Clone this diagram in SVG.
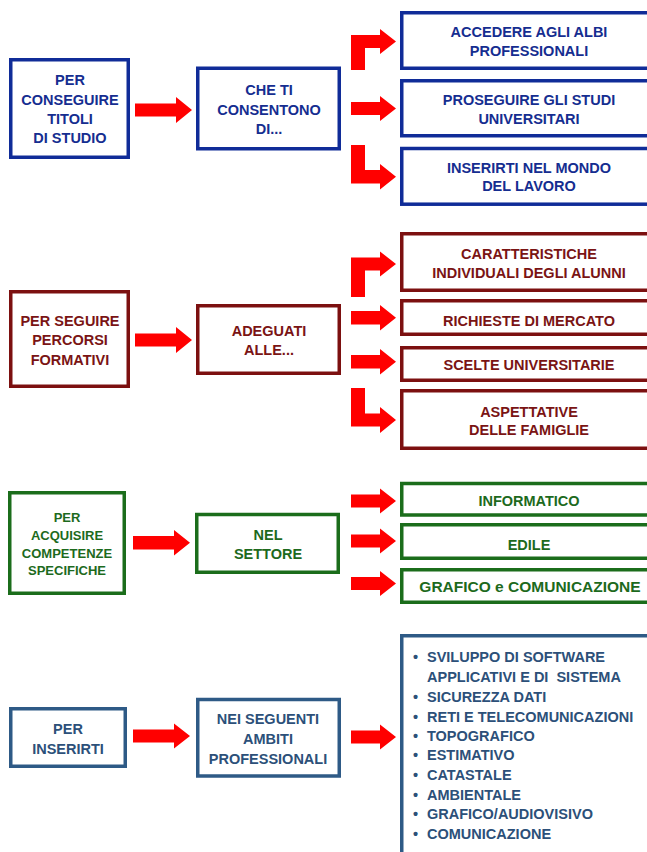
<svg xmlns="http://www.w3.org/2000/svg" width="647" height="852" viewBox="0 0 647 852">
<style>
text{font-family:"Liberation Sans",Arial,sans-serif;font-weight:bold;font-size:14.5px;text-anchor:middle}
rect{fill:#fff;stroke-width:3.5}
.b rect{stroke:#102c98}.b text{fill:#152d90}
.m rect{stroke:#7c1010}.m text{fill:#7a1414}
.g rect{stroke:#1b6d1b}.g text{fill:#1d6a1d}
.s rect{stroke:#2e5a86}.s text{fill:#2c5079}
.arr path{fill:#ff0000}
.sm{font-size:13px}
.list text{text-anchor:start;white-space:pre}
</style>
<rect x="0" y="0" width="647" height="852" style="fill:#fff;stroke:none"/>

<!-- Section 1 -->
<g id="s1a" class="b"><rect x="10.75" y="59.75" width="117.5" height="97.5"/>
<text x="70" y="85">PER</text><text x="70" y="104.5">CONSEGUIRE</text><text x="70" y="124">TITOLI</text><text x="70" y="143">DI STUDIO</text></g>
<g id="s1b" class="b"><rect x="197.75" y="68.25" width="141.5" height="80.5"/>
<text x="269" y="95">CHE TI</text><text x="269" y="115">CONSENTONO</text><text x="269" y="133.5">DI...</text></g>
<g id="s1r1" class="b"><rect x="401.75" y="12.75" width="260" height="55.5"/>
<text x="529" y="37">ACCEDERE AGLI ALBI</text><text x="529" y="56">PROFESSIONALI</text></g>
<g id="s1r2" class="b"><rect x="401.75" y="80.75" width="260" height="55"/>
<text x="529" y="105">PROSEGUIRE GLI STUDI</text><text x="529" y="123.5">UNIVERSITARI</text></g>
<g id="s1r3" class="b"><rect x="401.75" y="148.5" width="260" height="55.7"/>
<text x="529" y="172.5">INSERIRTI NEL MONDO</text><text x="529" y="191">DEL LAVORO</text></g>

<!-- Section 2 -->
<g id="s2a" class="m"><rect x="10.75" y="291.75" width="117.5" height="94.5"/>
<text x="70" y="326">PER SEGUIRE</text><text x="70" y="345">PERCORSI</text><text x="70" y="365">FORMATIVI</text></g>
<g id="s2b" class="m"><rect x="197.75" y="305.75" width="141.5" height="67.5"/>
<text x="269" y="336">ADEGUATI</text><text x="269" y="355">ALLE...</text></g>
<g id="s2r1" class="m"><rect x="401.75" y="233.75" width="260" height="56.5"/>
<text x="529" y="259">CARATTERISTICHE</text><text x="529" y="278">INDIVIDUALI DEGLI ALUNNI</text></g>
<g id="s2r2" class="m"><rect x="401.75" y="300.75" width="260" height="33.5"/>
<text x="529" y="326">RICHIESTE DI MERCATO</text></g>
<g id="s2r3" class="m"><rect x="401.75" y="347.75" width="260" height="32.5"/>
<text x="529" y="370">SCELTE UNIVERSITARIE</text></g>
<g id="s2r4" class="m"><rect x="401.75" y="390.75" width="260" height="57.5"/>
<text x="529" y="417">ASPETTATIVE</text><text x="529" y="435">DELLE FAMIGLIE</text></g>

<!-- Section 3 -->
<g id="s3a" class="g"><rect x="9.75" y="492.75" width="114.5" height="100.5"/>
<text class="sm" x="67" y="522">PER</text><text class="sm" x="67" y="540">ACQUISIRE</text><text class="sm" x="67" y="557.5">COMPETENZE</text><text class="sm" x="67" y="575">SPECIFICHE</text></g>
<g id="s3b" class="g"><rect x="196.75" y="514.5" width="141.5" height="57.75"/>
<text x="268" y="540">NEL</text><text x="268" y="559">SETTORE</text></g>
<g id="s3r1" class="g"><rect x="401.75" y="483.5" width="260" height="31.5"/>
<text x="529" y="506">INFORMATICO</text></g>
<g id="s3r2" class="g"><rect x="401.75" y="524.75" width="260" height="33.5"/>
<text x="529" y="550">EDILE</text></g>
<g id="s3r3" class="g"><rect x="401.75" y="569.75" width="260" height="32.5"/>
<text x="530" y="592" style="font-size:15.5px">GRAFICO e COMUNICAZIONE</text></g>

<!-- Section 4 -->
<g id="s4a" class="s"><rect x="10.75" y="708.75" width="114.5" height="57.5"/>
<text x="68" y="733.5">PER</text><text x="68" y="753.5">INSERIRTI</text></g>
<g id="s4b" class="s"><rect x="197.75" y="699.5" width="141.5" height="76.5"/>
<text x="268" y="724">NEI SEGUENTI</text><text x="268" y="744">AMBITI</text><text x="268" y="763.5">PROFESSIONALI</text></g>
<g id="s4r" class="s list"><rect x="401.75" y="635.75" width="260" height="240"/>
<text x="413" y="662">•</text><text x="427" y="662">SVILUPPO DI SOFTWARE</text>
<text x="427" y="681.5">APPLICATIVI E DI  SISTEMA</text>
<text x="413" y="702">•</text><text x="427" y="702">SICUREZZA DATI</text>
<text x="413" y="721.5">•</text><text x="427" y="721.5">RETI E TELECOMUNICAZIONI</text>
<text x="413" y="741">•</text><text x="427" y="741">TOPOGRAFICO</text>
<text x="413" y="760">•</text><text x="427" y="760">ESTIMATIVO</text>
<text x="413" y="780">•</text><text x="427" y="780">CATASTALE</text>
<text x="413" y="800">•</text><text x="427" y="800">AMBIENTALE</text>
<text x="413" y="819">•</text><text x="427" y="819">GRAFICO/AUDIOVISIVO</text>
<text x="413" y="838.5">•</text><text x="427" y="838.5">COMUNICAZIONE</text></g>

<!-- Connectors -->
<g id="connectors" class="arr">
<path d="M135,103.5H176V97L192,110L176,123V116.5H135Z"/>
<path d="M351,70V35H380V29L396,41.5L380,54V48H365V70Z"/>
<path d="M351,102H380V96L396,108.5L380,121V115H351Z"/>
<path d="M351,145H365V170H380V164L396,176.7L380,189.4V183.4H351Z"/>

<path d="M135,333.5H176V327L192,340L176,353V346.5H135Z"/>
<path d="M351,297V257.5H380V251.5L396,264L380,276.5V270.5H365V297Z"/>
<path d="M351,311H380V305L396,317.7L380,330.4V324.4H351Z"/>
<path d="M351,355H380V349L396,361.7L380,374.4V368.4H351Z"/>
<path d="M351,388H365V413.5H380V407L396,420L380,433V426.5H351Z"/>

<path d="M133,536H174V530L190,542.7L174,555.4V549.4H133Z"/>
<path d="M351,494.5H380V488.5L396,501L380,513.5V507.5H351Z"/>
<path d="M351,534.5H380V528.5L396,541L380,553.5V547.5H351Z"/>
<path d="M351,577H380V571L396,583.5L380,596V590H351Z"/>

<path d="M133,729.5H174V723.5L190,736L174,748.5V742.5H133Z"/>
<path d="M351,730.5H380V724.5L396,737L380,749.5V743.5H351Z"/>
</g>
</svg>
